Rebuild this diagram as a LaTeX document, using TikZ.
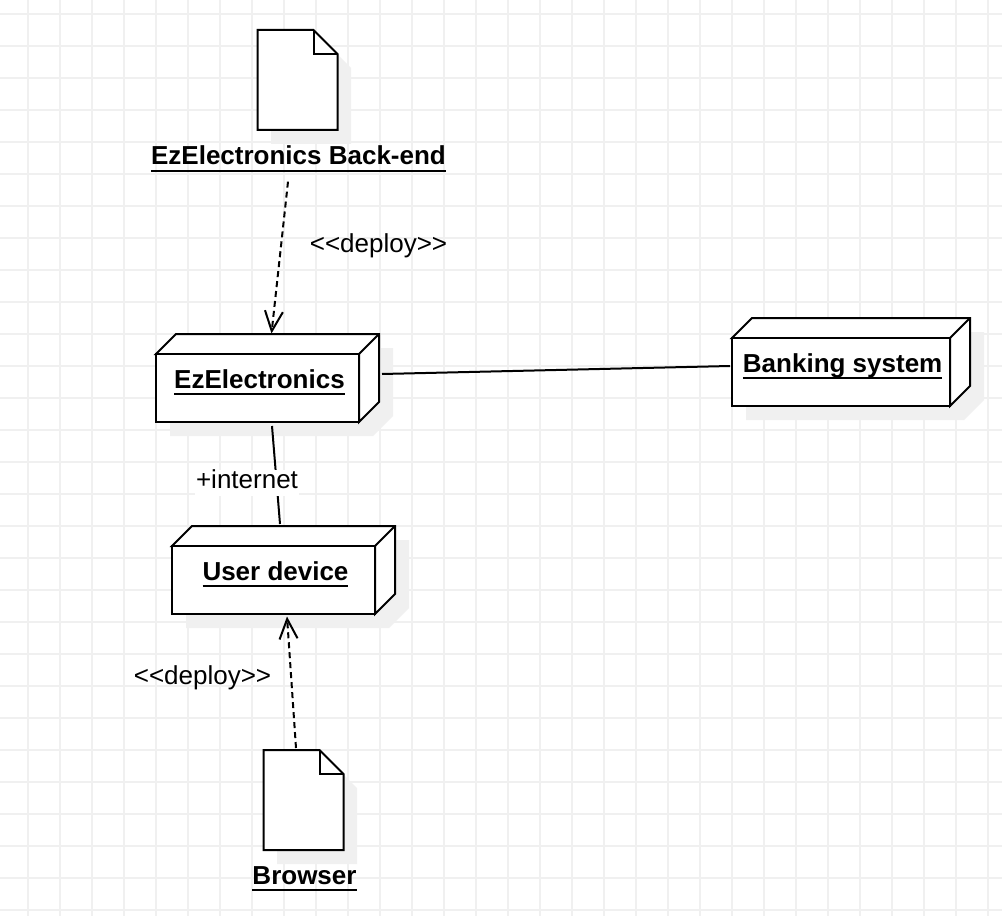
\documentclass[tikz,border=0pt]{standalone}
\usepackage{fontspec}
\setmainfont{Liberation Sans}
\usetikzlibrary{positioning,arrows.meta}
\newcommand{\ultxt}[1]{\setbox0\hbox{\bfseries #1}\rlap{\rule[-5.2pt]{\wd0}{1.5pt}}\box0}

\begin{document}
\begin{tikzpicture}[
  x=0.75pt, y=-0.75pt, font=\fontsize{19.5pt}{23pt}\selectfont,
  gridline/.style={draw=black!6,line width=1.1pt},
  shade3d/.style={fill=black!6,draw=none},
  devnode/.style={draw,fill=white,line width=1.5pt,inner sep=0pt,outer sep=0pt,minimum height=51pt,
    text height=25.5pt,text depth=25.5pt,
    append after command={\pgfextra{\let\lastdev\tikzlastnode
      \draw[line width=1.5pt,fill=white] (\lastdev.north west) -- ++(15pt,15pt) -- ([shift={(15pt,15pt)}]\lastdev.north east)
        -- ([shift={(15pt,15pt)}]\lastdev.south east) -- (\lastdev.south east) -- (\lastdev.north east) -- cycle;
      \draw[line width=1.5pt] (\lastdev.north east) -- ++(15pt,15pt);}}},
  docnode/.style={inner sep=0pt,outer sep=0pt,minimum width=60pt,minimum height=75pt,
    append after command={\pgfextra{\let\lastdoc\tikzlastnode
      \draw[line width=1.5pt,fill=white] (\lastdoc.north west) -- ([xshift=-18pt]\lastdoc.north east) -- ([yshift=-18pt]\lastdoc.north east)
        -- (\lastdoc.south east) -- (\lastdoc.south west) -- cycle;
      \draw[line width=1.5pt] ([xshift=-18pt]\lastdoc.north east) -- ++(0,-18pt) -- ([yshift=-18pt]\lastdoc.north east);}}},
  doclabel/.style={inner sep=0pt,outer sep=0pt,text height=14pt,text depth=6pt},
  lbl/.style={inner sep=0pt,outer sep=0pt,text height=14pt,text depth=6pt},
  assoc/.style={line width=1.5pt},
  deploy/.style={line width=1.5pt,dash pattern=on 4.5pt off 3pt,-{Straight Barb[length=15pt,width=13.5pt,line width=1.5pt]}}]
\useasboundingbox (0,0) rectangle (1002,916);
\fill[white] (0,0) rectangle (1002,916);
% grid
\foreach \x in {28,60,...,988} \draw[gridline] (\x,0) -- (\x,916);
\foreach \y in {14,46,...,910} \draw[gridline] (0,\y) -- (1002,\y);
% shadows
\foreach \x/\y/\w in {170/348/203, 746/332/218, 186/540/203}
  \fill[shade3d] (\x,\y+20) -- (\x+20,\y) -- (\x+\w+20,\y) -- (\x+\w+20,\y+68) -- (\x+\w,\y+88) -- (\x,\y+88) -- cycle;
\foreach \x/\y in {271/44, 277/764}
  \fill[shade3d] (\x,\y) -- (\x+56,\y) -- (\x+80,\y+24) -- (\x+80,\y+100) -- (\x,\y+100) -- cycle;
% nodes
\node[docnode] (backend) at (297.5,80) {};
\node[doclabel,below=12pt of backend,xshift=0.75pt] (backendtxt) {\ultxt{EzElectronics Back-end}};
\node[devnode,minimum width=152.25pt] (ez) at (257.5,388) {\hspace{3pt}\ultxt{EzElectronics}};
\node[devnode,minimum width=163.5pt] (bank) at (841,372) {\hspace{2.5pt}\ultxt{Banking system}};
\node[devnode,minimum width=152.25pt] (user) at (273.5,580) {\hspace{3pt}\ultxt{User device}};
\node[docnode] (browser) at (303.5,800) {};
\node[doclabel,below=11.5pt of browser,xshift=0.75pt] (browsertxt) {\ultxt{Browser}};
% connectors
\draw[deploy] ([shift={(-10.5,9)}]backendtxt.south) -- ([shift={(14,-20.5)}]ez.north);
\draw[assoc] ([shift={(23,-14)}]ez.east) -- ([shift={(-2,-6)}]bank.west);
\draw[assoc] ([shift={(14.5,4)}]ez.south) -- ([shift={(6.5,-22)}]user.north);
\draw[deploy] ([shift={(-7.5,-2)}]browser.north) -- ([shift={(13.5,2.5)}]user.south);
% labels
\node[lbl,fill=white,inner xsep=1pt] (inet) at (247,483) {+internet};
\node[lbl] (depa) at (378.5,247) {<{}<deploy>{}>};
\node[lbl] (depb) at (202.5,679) {<{}<deploy>{}>};
\end{tikzpicture}
\end{document}
